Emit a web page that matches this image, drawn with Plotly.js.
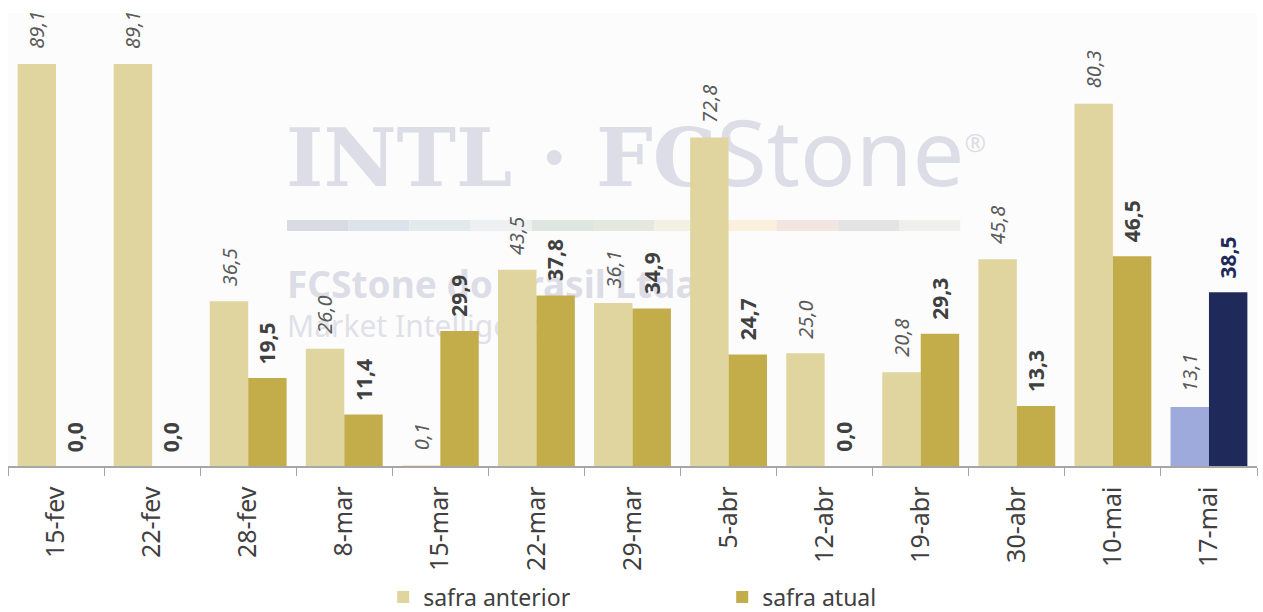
<!DOCTYPE html>
<html>
<head>
<meta charset="utf-8">
<script src="https://cdn.plot.ly/plotly-3.0.1.min.js"></script>
<style>html,body{margin:0;padding:0;background:#fff;}#chart{width:1263px;height:612px;}</style>
</head>
<body>
<div id="chart"></div>
<script>
const categories = ['15-fev','22-fev','28-fev','8-mar','15-mar','22-mar','29-mar','5-abr','12-abr','19-abr','30-abr','10-mai','17-mai'];
const safraAnterior = [89.1, 89.1, 36.5, 26.0, 0.1, 43.5, 36.1, 72.8, 25.0, 20.8, 45.8, 80.3, 13.1];
const safraAtual = [0.0, 0.0, 19.5, 11.4, 29.9, 37.8, 34.9, 24.7, 0.0, 29.3, 13.3, 46.5, 38.5];
const seriesNames = ['safra anterior', 'safra atual'];

const colAnt = '#e0d49f', colAtual = '#c3ad4a';
const colAntLast = '#9faadc', colAtualLast = '#1f2a5a';
const last = categories.length - 1;
const antColors = categories.map((c, i) => i === last ? colAntLast : colAnt);
const atualColors = categories.map((c, i) => i === last ? colAtualLast : colAtual);

const fmt = v => v.toFixed(1).replace('.', ',');
const FONT = 'Noto Sans, Open Sans, sans-serif';

const traces = [
  {type: 'bar', name: seriesNames[0], x: categories, y: safraAnterior,
   marker: {color: antColors}, hoverinfo: 'skip'},
  {type: 'bar', name: seriesNames[1], x: categories, y: safraAtual,
   marker: {color: atualColors}, hoverinfo: 'skip'}
];

const annotations = [];
categories.forEach((c, i) => {
  annotations.push({x: c, y: safraAnterior[i], xref: 'x', yref: 'y', text: fmt(safraAnterior[i]),
    textangle: -90, showarrow: false, xanchor: 'center', yanchor: 'bottom', xshift: -19.2, yshift: 13,
    font: {family: FONT, size: 20, color: '#595959', style: 'italic'}});
  annotations.push({x: c, y: safraAtual[i], xref: 'x', yref: 'y', text: '<b>' + fmt(safraAtual[i]) + '</b>',
    textangle: -90, showarrow: false, xanchor: 'center', yanchor: 'bottom', xshift: 19.2, yshift: 12,
    font: {family: FONT, size: 21, color: i === last ? colAtualLast : '#404040'}});
});

// watermark (drawn below the bars)
const pw = 1249, ph = 453;
const px = v => (v - 8) / pw;
const py = v => (466 - v) / ph;
const stripColors = ['#d9dbe4','#dde3ea','#e3eaec','#eef0f1','#dfe5df','#e4e8df','#f3f1e1','#fbf0dc','#f5e5e0','#e5e4e4','#efefec'];
const shapes = [];
stripColors.forEach((col, i) => {
  shapes.push({type: 'rect', xref: 'paper', yref: 'paper', layer: 'below',
    x0: px(287 + i * 61.2), x1: px(287 + (i + 1) * 61.2), y0: py(231), y1: py(220),
    fillcolor: col, line: {width: 0}});
});
const wm = (text, x0, y0, y1, size, color, family, weight) => ({
  type: 'rect', xref: 'paper', yref: 'paper', layer: 'below',
  x0: px(x0), x1: px(x0 + 800), y0: py(y1), y1: py(y0),
  fillcolor: 'rgba(0,0,0,0)', line: {width: 0},
  label: {text: text, textposition: 'middle left', padding: 0,
    font: {size: size, color: color, family: family, weight: weight}}
});
shapes.push(wm('INTL · FC<span style="font-family:Noto Sans;font-weight:normal;font-size:92px">Stone</span><sup><span style="font-family:Noto Sans;font-weight:normal;font-size:26px">®</span></sup>',
  283, 130, 206, 80, '#dcdde6', 'DejaVu Serif, Liberation Serif, serif', 'bold'));
shapes.push(wm('FCStone do Brasil Ltda.', 284, 266, 306, 37, '#dcdde6', FONT, 'bold'));
shapes.push(wm('Market Intelligence', 284, 310, 344, 30, '#e0e1e8', FONT, 'normal'));

const layout = {
  width: 1263, height: 612,
  margin: {l: 8, r: 6, t: 13, b: 146},
  paper_bgcolor: '#ffffff', plot_bgcolor: '#fcfcfc',
  barmode: 'group', bargap: 0.2, bargroupgap: 0,
  font: {family: FONT, color: '#404040'},
  xaxis: {type: 'category', tickangle: -90, ticks: 'outside', tickson: 'boundaries', ticklen: 8,
    tickcolor: '#a6a6a6', showline: true, linecolor: '#a6a6a6', linewidth: 1.5, automargin: false,
    ticklabelstandoff: 9,
    tickfont: {family: FONT, size: 25, color: '#404040'}, showgrid: false, fixedrange: true},
  yaxis: {range: [0, 100.4], visible: false, showgrid: false, zeroline: false, fixedrange: true, automargin: false},
  showlegend: true,
  legend: {orientation: 'h', xref: 'container', yref: 'container',
    x: 0.3034, xanchor: 'left', y: 15 / 612, yanchor: 'middle',
    entrywidth: 294, font: {family: FONT, size: 23, color: '#404040'}, traceorder: 'normal',
    borderwidth: 0, tracegroupgap: 0},
  annotations: annotations,
  shapes: shapes
};

Plotly.newPlot('chart', traces, layout, {displayModeBar: false, staticPlot: true});
</script>
</body>
</html>
